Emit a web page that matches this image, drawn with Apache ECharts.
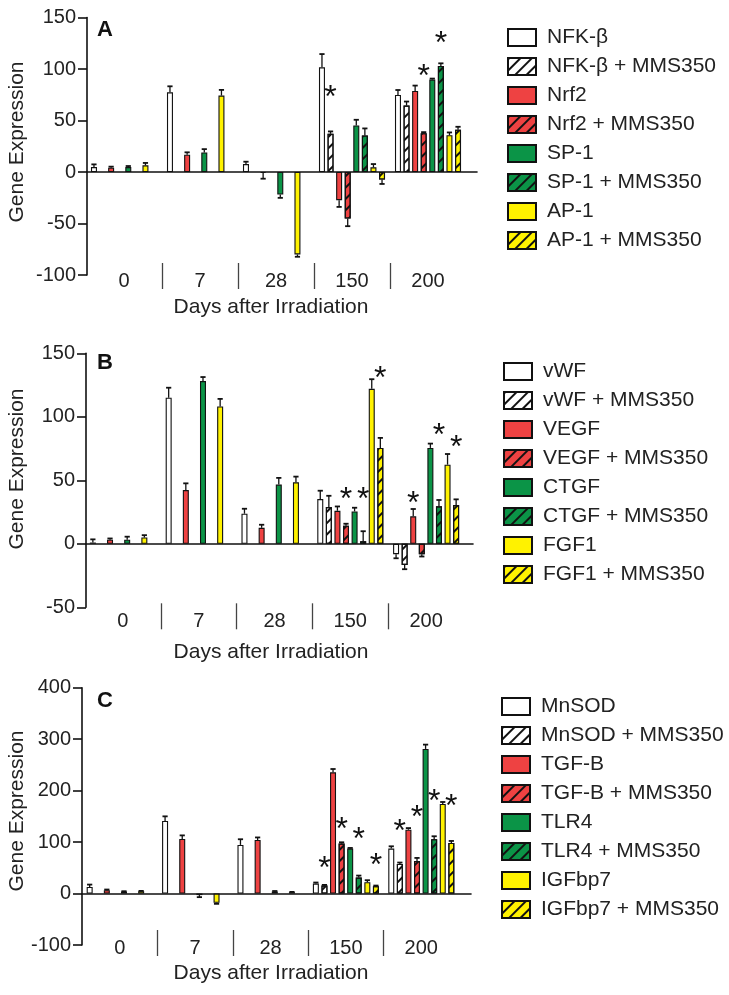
<!DOCTYPE html>
<html><head><meta charset="utf-8">
<script src="https://cdn.jsdelivr.net/npm/echarts@6/dist/echarts.min.js"></script>
<style>html,body{margin:0;padding:0;background:#fff}#c{width:729px;height:995px}</style>
</head><body><div id="c"></div>
<script>
const days = ['0', '7', '28', '150', '200'];

// ---- Panel A ----
const namesA = ['NFK-β', 'NFK-β + MMS350', 'Nrf2', 'Nrf2 + MMS350', 'SP-1', 'SP-1 + MMS350', 'AP-1', 'AP-1 + MMS350'];
const nfkb = [4.8, 77.4, 7.7, 101.6, 74.8];
const nfkbErr = [2.6, 5.8, 2.3, 12.9, 4.8];
const nfkbMms = [null, null, null, 37.1, 64.5];
const nfkbMmsErr = [null, null, null, 2.3, 3.9];
const nrf2 = [4.2, 16.8, -1, -27.4, 78.7];
const nrf2Err = [1, 2.3, 5.5, 6.5, 5.2];
const nrf2Mms = [null, null, null, -45.2, 37.7];
const nrf2MmsErr = [null, null, null, 7.4, 1];
const sp1 = [4.8, 19, -21.9, 45.2, 89.7];
const sp1Err = [1, 3.2, 3.2, 5.5, 1];
const sp1Mms = [null, null, null, 35.5, 102.9];
const sp1MmsErr = [null, null, null, 6.8, 2.6];
const ap1 = [6.5, 74.2, -80, 4.5, 35.8];
const ap1Err = [2.3, 5.5, 2.3, 3.2, 2.6];
const ap1Mms = [null, null, null, -7.4, 41];
const ap1MmsErr = [null, null, null, 4.2, 2.9];
// [series index, day index, asterisk height]
const starsA = [[1, 3, 78], [3, 4, 99], [5, 4, 131]];

// ---- Panel B ----
const namesB = ['vWF', 'vWF + MMS350', 'VEGF', 'VEGF + MMS350', 'CTGF', 'CTGF + MMS350', 'FGF1', 'FGF1 + MMS350'];
const vwf = [1, 115, 23.7, 35.2, -8.2];
const vwfErr = [2.5, 7.9, 3.9, 6.6, 3.2];
const vwfMms = [null, null, null, 28.9, -16.6];
const vwfMmsErr = [null, null, null, 8.9, 3.4];
const vegf = [3.2, 42.3, 12.6, 26, 21.6];
const vegfErr = [1, 5.3, 2.4, 3.4, 5.8];
const vegfMms = [null, null, null, 14.2, -8.2];
const vegfMmsErr = [null, null, null, 1.6, 1.8];
const ctgf = [3.2, 128.1, 46.6, 25.5, 75.5];
const ctgfErr = [2.4, 3.2, 5.3, 2.9, 3.4];
const ctgfMms = [null, null, null, 2, 29.5];
const ctgfMmsErr = [null, null, null, 7.9, 5];
const fgf1 = [5, 108.1, 48.4, 122, 62.3];
const fgf1Err = [1.8, 6, 4.5, 7.6, 8.4];
const fgf1Mms = [null, null, null, 75.5, 30.5];
const fgf1MmsErr = [null, null, null, 7.9, 4.5];
const starsB = [[3, 3, 40], [5, 3, 40], [7, 3, 135], [2, 4, 37], [5, 4, 90], [7, 4, 81]];

// ---- Panel C ----
const namesC = ['MnSOD', 'MnSOD + MMS350', 'TGF-B', 'TGF-B + MMS350', 'TLR4', 'TLR4 + MMS350', 'IGFbp7', 'IGFbp7 + MMS350'];
const mnsod = [12.9, 141, 94.5, 19.4, 87.3];
const mnsodErr = [4.5, 9, 11, 2, 4.5];
const mnsodMms = [null, null, null, 15.5, 57.6];
const mnsodMmsErr = [null, null, null, 1.3, 2.6];
const tgfb = [6.5, 106, 104, 235.5, 124];
const tgfbErr = [1.3, 7, 5, 6.5, 3.2];
const tgfbMms = [null, null, null, 97, 63.4];
const tgfbMmsErr = [null, null, null, 2.6, 5.8];
const tlr4 = [3.9, -3, 3.9, 87.3, 281];
const tlr4Err = [0.6, 4, 1, 1.3, 8.4];
const tlr4Mms = [null, null, null, 31, 105.5];
const tlr4MmsErr = [null, null, null, 3.9, 5.8];
const igfbp7 = [4.5, -18, 2.6, 22, 174];
const igfbp7Err = [0.6, 2, 0.6, 3.9, 3.9];
const igfbp7Mms = [null, null, null, 14.2, 98.3];
const igfbp7MmsErr = [null, null, null, 1.3, 3.9];
const starsC = [[1, 3, 61], [3, 3, 137], [5, 3, 118], [7, 3, 66], [1, 4, 132], [3, 4, 160], [5, 4, 192], [7, 4, 181]];

// ---- styling ----
const FONT = "'Liberation Sans', Arial, sans-serif";
const RED = '#EE4242', GREEN = '#0B9447', YELLOW = '#FFF200', WHITE = '#FFFFFF';
const fills = [WHITE, WHITE, RED, RED, GREEN, GREEN, YELLOW, YELLOW];
const BAR_W = 6, BAR_GAP = 0.43, SLOT = BAR_W * (1 + BAR_GAP);
const hatch = { symbol: 'rect', symbolSize: 1, dashArrayX: [1, 0], dashArrayY: [2, 5.5], rotation: -Math.PI / 4, color: '#111' };

const panels = [
  { names: namesA, vals: [nfkb, nfkbMms, nrf2, nrf2Mms, sp1, sp1Mms, ap1, ap1Mms],
    errs: [nfkbErr, nfkbMmsErr, nrf2Err, nrf2MmsErr, sp1Err, sp1MmsErr, ap1Err, ap1MmsErr], stars: starsA,
    min: -100, max: 150, step: 50, top: 17.5, height: 257.5, frameLeft: 87, frameW: 390, barsLeft: 86, barsW: 380,
    sepOffset: -12, letter: 'A', letterTop: 19, legendLeft: 502, legendTop: 22, yTitleY: 142, xTitleY: 307 },
  { names: namesB, vals: [vwf, vwfMms, vegf, vegfMms, ctgf, ctgfMms, fgf1, fgf1Mms],
    errs: [vwfErr, vwfMmsErr, vegfErr, vegfMmsErr, ctgfErr, ctgfMmsErr, fgf1Err, fgf1MmsErr], stars: starsB,
    min: -50, max: 150, step: 50, top: 353.3, height: 254, frameLeft: 86, frameW: 387, barsLeft: 85, barsW: 379,
    sepOffset: -4, letter: 'B', letterTop: 352, legendLeft: 498, legendTop: 356, yTitleY: 469, xTitleY: 652 },
  { names: namesC, vals: [mnsod, mnsodMms, tgfb, tgfbMms, tlr4, tlr4Mms, igfbp7, igfbp7Mms],
    errs: [mnsodErr, mnsodMmsErr, tgfbErr, tgfbMmsErr, tlr4Err, tlr4MmsErr, igfbp7Err, igfbp7MmsErr], stars: starsC,
    min: -100, max: 400, step: 100, top: 687.7, height: 257.3, frameLeft: 82, frameW: 389, barsLeft: 82, barsW: 377,
    sepOffset: -15, letter: 'C', letterTop: 690, legendLeft: 496, legendTop: 691, yTitleY: 811, xTitleY: 973 }
];

const grid = [], xAxis = [], yAxis = [], series = [], legend = [], title = [], graphic = [];

panels.forEach((p, pi) => {
  const gFrame = pi * 2, gBars = pi * 2 + 1;
  grid.push({ left: p.frameLeft, top: p.top, width: p.frameW, height: p.height });
  grid.push({ left: p.barsLeft, top: p.top, width: p.barsW, height: p.height });
  const xFrame = pi * 3, xBars = pi * 3 + 1, xSep = pi * 3 + 2;
  const yFrame = pi * 2, yBars = pi * 2 + 1;
  xAxis.push({ type: 'category', gridIndex: gFrame, data: [''],
    axisLine: { onZero: true, lineStyle: { color: '#111', width: 1.6 } }, axisTick: { show: false }, axisLabel: { show: false } });
  xAxis.push({ type: 'category', gridIndex: gBars, data: days, position: 'bottom', offset: p.sepOffset,
    axisLine: { show: false, onZero: false }, axisTick: { show: false },
    axisLabel: { show: true, fontSize: 20, fontFamily: FONT, color: '#222', margin: 8 } });
  xAxis.push({ type: 'category', gridIndex: gBars, data: ['', '', '', '', '', ''], boundaryGap: false, position: 'bottom', offset: p.sepOffset,
    axisLine: { show: false, onZero: false }, axisLabel: { show: false },
    axisTick: { show: true, length: 26, interval: function (i) { return i > 0 && i < 5; }, lineStyle: { color: '#444', width: 1.3 } } });
  yAxis.push({ type: 'value', gridIndex: gFrame, min: p.min, max: p.max, interval: p.step,
    axisLine: { show: true, lineStyle: { color: '#111', width: 1.6 } },
    axisTick: { show: true, length: 9, lineStyle: { color: '#111', width: 1.6 } },
    axisLabel: { fontSize: 20, fontFamily: FONT, color: '#222', margin: 11 }, splitLine: { show: false } });
  yAxis.push({ type: 'value', gridIndex: gBars, min: p.min, max: p.max, interval: p.step, show: false, splitLine: { show: false } });

  p.names.forEach((name, si) => {
    const itemStyle = { color: fills[si], borderColor: '#111', borderWidth: 1.1 };
    if (si % 2 === 1) itemStyle.decal = hatch;
    series.push({ type: 'bar', name: name, xAxisIndex: xBars, yAxisIndex: yBars, data: p.vals[si],
      barWidth: BAR_W, barGap: (BAR_GAP * 100) + '%', itemStyle: itemStyle, z: 2, animation: false });
  });

  const errData = [];
  p.vals.forEach((arr, si) => {
    arr.forEach((v, ci) => {
      if (v === null) return;
      const e = p.errs[si][ci];
      errData.push([ci, v, v >= 0 ? v + e : v - e, si]);
    });
  });
  series.push({ type: 'custom', xAxisIndex: xBars, yAxisIndex: yBars, data: errData, z: 3, clip: false, animation: false,
    encode: { x: 0, y: 1 }, silent: true,
    renderItem: function (params, api) {
      const cat = api.value(0), v = api.value(1), tip = api.value(2), slot = api.value(3);
      const p0 = api.coord([cat, v]), p1 = api.coord([cat, tip]);
      const x = p0[0] + (slot - 3.5) * SLOT;
      return { type: 'group', children: [
        { type: 'line', shape: { x1: x, y1: p0[1], x2: x, y2: p1[1] }, style: { stroke: '#111', lineWidth: 1.3 } },
        { type: 'line', shape: { x1: x - 2.6, y1: p1[1], x2: x + 2.6, y2: p1[1] }, style: { stroke: '#111', lineWidth: 1.8 } }
      ] };
    } });
  series.push({ type: 'custom', xAxisIndex: xBars, yAxisIndex: yBars,
    data: p.stars.map(s => [s[1], s[2], s[0]]), z: 4, clip: false, animation: false, encode: { x: 0, y: 1 }, silent: true,
    renderItem: function (params, api) {
      const pt = api.coord([api.value(0), api.value(1)]);
      const x = pt[0] + (api.value(2) - 3.5) * SLOT;
      return { type: 'text', x: x, y: pt[1] + 7,
        style: { text: '*', fontSize: 32, fontFamily: FONT, fill: '#111', align: 'center', verticalAlign: 'middle' } };
    } });

  legend.push({ orient: 'vertical', left: p.legendLeft, top: p.legendTop, data: p.names, icon: 'rect',
    itemWidth: 28, itemHeight: 17, itemGap: 8, selectedMode: false,
    textStyle: { fontSize: 21, fontFamily: FONT, color: '#222', padding: [0, 0, 0, 6] } });
  title.push({ text: p.letter, left: 97, top: p.letterTop, padding: 0,
    textStyle: { fontSize: 22, fontWeight: 'bold', fontFamily: FONT, color: '#111' } });
  graphic.push({ type: 'text', x: 17, y: p.yTitleY, rotation: Math.PI / 2,
    style: { text: 'Gene Expression', fontSize: 21, fontFamily: FONT, fill: '#222', align: 'center', verticalAlign: 'middle' } });
  graphic.push({ type: 'text', x: 271, y: p.xTitleY,
    style: { text: 'Days after Irradiation', fontSize: 21, fontFamily: FONT, fill: '#222', align: 'center', verticalAlign: 'middle' } });
});

const chart = echarts.init(document.getElementById('c'), null, { renderer: 'canvas' });
chart.setOption({ animation: false, backgroundColor: '#fff', title, grid, xAxis, yAxis, series, legend, graphic });
</script></body></html>
